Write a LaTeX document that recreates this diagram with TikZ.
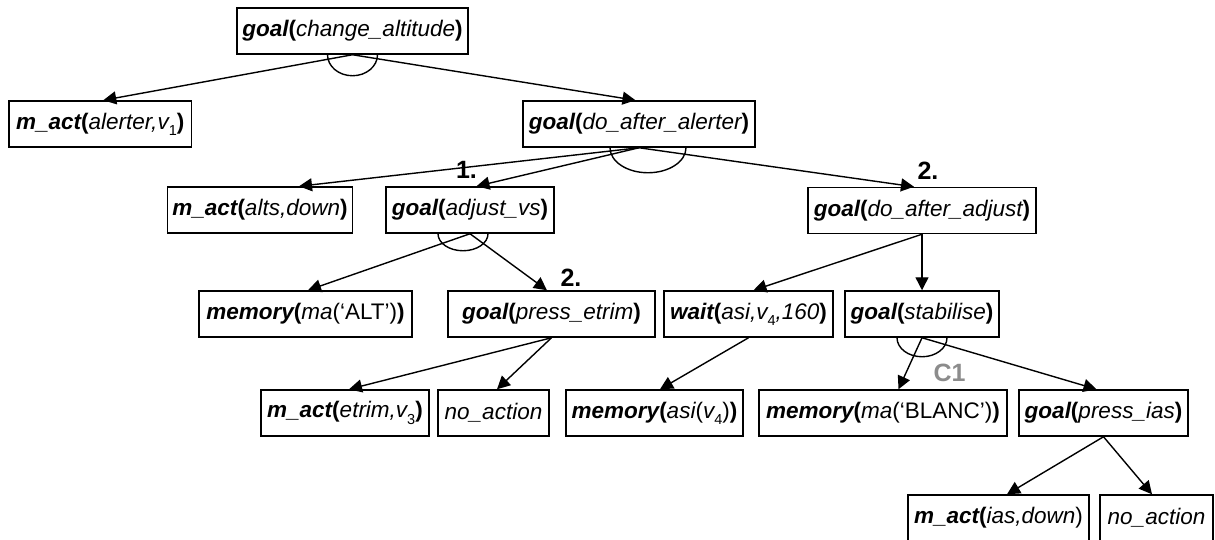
\documentclass[tikz,border=0pt]{standalone}
\usepackage{fontspec}
\setmainfont{Liberation Sans}
\usetikzlibrary{arrows.meta}

% text helpers: bold-italic functor, bold upright bracket, italic argument, lowered index
\newcommand\bi[1]{{\bfseries\itshape #1}}
\newcommand\bp[1]{{\bfseries\upshape #1}}
\newcommand\ii[1]{{\itshape #1}}
\newcommand\subn[1]{\raisebox{-0.28em}{\fontsize{14.5}{14.5}\selectfont\upshape\mdseries #1}}

\begin{document}
\begin{tikzpicture}[x=1pt,y=1pt,
  box/.style={draw, line width=1.5pt, minimum height=46pt, inner xsep=2pt, inner ysep=0pt,
              font=\fontsize{22.5}{26}\selectfont},
  arr/.style={line width=1.4pt, -{Triangle[length=13pt,width=13pt]}},
  andarc/.style={line width=1.4pt},
  lbl/.style={font=\fontsize{25}{28}\selectfont\bfseries, inner sep=0pt}
]
\useasboundingbox (0,0) rectangle (1215,-539);

% level 0
\node[box, minimum width=231] (root) at (352.5,-31) {\bi{goal}\bp{(}\ii{change\_altitude}\bp{)}};

% level 1
\node[box, minimum width=182.5] (malerter) at (100.25,-124) {\bi{m\_act}\bp{(}\ii{alerter,v}\subn{1}\bp{)}};
\node[box, minimum width=232] (doalerter) at (639,-124) {\bi{goal}\bp{(}\ii{do\_after\_alerter}\bp{)}};

% level 2
\node[box, minimum width=185] (malts) at (260,-210) {\bi{m\_act}\bp{(}\ii{alts,down}\bp{)}};
\node[box, minimum width=168] (adjustvs) at (470,-210) {\bi{goal}\bp{(}\ii{adjust\_vs}\bp{)}};
\node[box, minimum width=228] (doadjust) at (922,-210.5) {\bi{goal}\bp{(}\ii{do\_after\_adjust}\bp{)}};

% level 3
\node[box, minimum width=213] (memalt) at (305.5,-314) {\bi{memory}\bp{(}\ii{ma}(‘ALT’)\bp{)}};
\node[box, minimum width=207] (pressetrim) at (551.5,-314) {\bi{goal}\bp{(}\ii{press\_etrim}\bp{)}};
\node[box, minimum width=169] (wait) at (748.5,-314) {\bi{wait}\bp{(}\ii{asi,v}\subn{4}\ii{,160}\bp{)}};
\node[box, minimum width=154] (stabilise) at (922,-314) {\bi{goal}\bp{(}\ii{stabilise}\bp{)}};

% level 4
\node[box, minimum width=168] (metrim) at (345,-413) {\bi{m\_act}\bp{(}\ii{etrim,v}\subn{3}\bp{)}};
\node[box, minimum width=111] (noactA) at (493.5,-413) {\ii{no\_action}};
\node[box, minimum width=177] (memasi) at (654.5,-413) {\bi{memory}\bp{(}\ii{asi}(\ii{v}\subn{4})\bp{)}};
\node[box, minimum width=248] (memblanc) at (883,-413) {\bi{memory}\bp{(}\ii{ma}(‘BLANC’)\bp{)}};
\node[box, minimum width=169] (pressias) at (1103.5,-413) {\bi{goal}\bp{(}\ii{press\_ias}\bp{)}};

% level 5
\node[box, minimum width=181] (mias) at (998.5,-518) {\bi{m\_act}\bp{(}\ii{ias,down})};
\node[box, minimum width=113] (noactB) at (1156.5,-518) {\ii{no\_action}};

% AND arcs under the decomposed goals
\draw[andarc] ([xshift=-25pt]root.south) arc[start angle=180, end angle=360, x radius=25pt, y radius=21pt];
\draw[andarc] ([xshift=-29pt]doalerter.south) arc[start angle=180, end angle=360, x radius=38pt, y radius=25pt];
\draw[andarc] ([xshift=-32pt]adjustvs.south) arc[start angle=180, end angle=360, x radius=25pt, y radius=17pt];
\draw[andarc] ([xshift=-25pt]stabilise.south) arc[start angle=180, end angle=360, x radius=25pt, y radius=19pt];

% decomposition arrows
\draw[arr] (root.south) -- ([xshift=3pt]malerter.north);
\draw[arr] (root.south) -- ([xshift=-3.5pt]doalerter.north);
\draw[arr] (doalerter.south) -- ([xshift=39pt]malts.north);
\draw[arr] (doalerter.south) -- ([xshift=6.5pt]adjustvs.north);
\draw[arr] (doalerter.south) -- ([xshift=-8pt]doadjust.north);
\draw[arr] (adjustvs.south) -- ([xshift=2.5pt]memalt.north);
\draw[arr] (adjustvs.south) -- ([xshift=-4.5pt]pressetrim.north);
\draw[arr] (doadjust.south) -- ([xshift=5pt]wait.north);
\draw[arr] (doadjust.south) -- (stabilise.north);
\draw[arr] (pressetrim.south) -- ([xshift=4pt]metrim.north);
\draw[arr] (pressetrim.south) -- ([xshift=3.5pt]noactA.north);
\draw[arr] (wait.south) -- ([xshift=5.5pt]memasi.north);
\draw[arr] (stabilise.south) -- ([xshift=15.5pt]memblanc.north);
\draw[arr] (stabilise.south) -- ([xshift=-7pt]pressias.north);
\draw[arr] (pressias.south) -- ([xshift=8.5pt]mias.north);
\draw[arr] (pressias.south) -- ([xshift=-4.5pt]noactB.north);

% ordering and constraint labels
\node[lbl] (ordA) at (466.5,-170) {1.};
\node[lbl] (ordB) at (928,-171) {2.};
\node[lbl] (ordC) at (571,-278) {2.};
\node[lbl, text=black!45] (cone) at (949.5,-373) {C1};
\end{tikzpicture}
\end{document}
